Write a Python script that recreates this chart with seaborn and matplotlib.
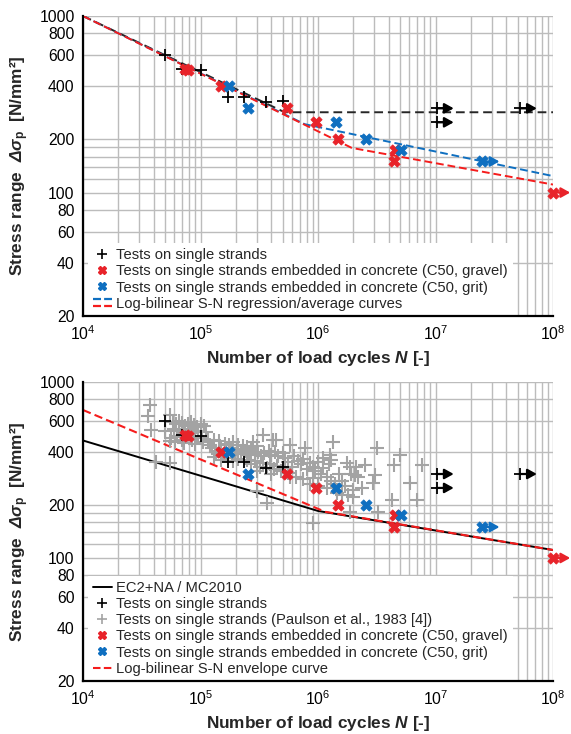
import numpy as np
import pandas as pd
import seaborn as sns
import matplotlib
matplotlib.use("Agg")
import matplotlib.pyplot as plt
from matplotlib.lines import Line2D
from matplotlib.legend_handler import HandlerBase
from matplotlib.ticker import FixedLocator, NullFormatter, LogLocator

# ---------------- data ----------------
# Tests on single strands (N, stress range)
strand_N = [5.0e4, 7.0e4, 1.0e5, 1.72e5, 2.35e5, 3.6e5, 5.0e5]
strand_S = [600, 500, 495, 350, 350, 325, 330]
strand_runout_N = [1.02e7, 1.02e7, 5.2e7]
strand_runout_S = [300, 250, 300]

# Strands embedded in concrete (C50, gravel)
gravel_N = [7.4e4, 7.9e4, 1.49e5, 5.4e5, 9.6e5, 1.49e6, 4.5e6, 4.4e6]
gravel_S = [500, 495, 400, 300, 250, 200, 175, 150]
gravel_runout_N = [1.0e8]
gravel_runout_S = [100]

# Strands embedded in concrete (C50, grit)
grit_N = [1.74e5, 2.55e5, 1.42e6, 2.56e6, 5.1e6]
grit_S = [400, 300, 250, 200, 175]
grit_runout_N = [2.5e7]
grit_runout_S = [150]

# Log-bilinear regression / average curves (top panel)
avg_strand_N = [1e4, 5.2e5, 1e8]
avg_strand_S = [1000, 285, 285]
avg_grit_N = [1e4, 7.7e5, 1e8]
avg_grit_S = [1000, 244, 124]
avg_gravel_N = [1e4, 1.94e6, 1e8]
avg_gravel_S = [1000, 179, 111]

# EC2+NA / MC2010 and envelope curve (bottom panel)
ec2_N = [1e4, 1e6, 1e8]
ec2_S = [465, 185, 111]
env_N = [1e4, 1.15e6, 1e8]
env_S = [693, 183, 111]

# Paulson et al., 1983 (N, stress range)
paulson_tests = [
    (3.7e4, 740), (3.6e4, 640), (3.8e4, 535), (4.2e4, 350), (5.5e4, 345),
    (5.5e4, 650), (5.0e4, 530), (5.5e4, 460),
    (5.8e4, 590), (6.2e4, 575), (6.6e4, 600), (7.0e4, 585), (7.4e4, 560),
    (7.8e4, 575), (8.3e4, 590), (8.8e4, 570), (9.3e4, 555), (1.0e5, 575),
    (1.08e5, 560), (6.0e4, 540), (6.5e4, 525), (7.2e4, 530), (8.0e4, 540),
    (8.6e4, 520), (9.6e4, 530), (1.12e5, 520), (5.6e4, 480), (6.3e4, 495),
    (6.9e4, 470), (7.6e4, 490), (8.4e4, 470), (9.0e4, 490), (1.02e5, 480),
    (1.15e5, 470), (6.1e4, 455), (7.3e4, 450), (8.9e4, 445), (1.05e5, 455),
    (1.2e5, 440),
    (1.3e5, 470), (1.45e5, 460), (1.6e5, 445), (1.75e5, 440), (1.9e5, 455),
    (2.1e5, 440), (2.3e5, 430), (2.5e5, 425), (2.8e5, 458), (3.4e5, 500),
    (4.1e5, 468), (4.4e5, 468), (3.0e5, 430),
    (1.25e5, 420), (1.35e5, 400), (1.5e5, 415), (1.65e5, 395), (1.8e5, 410),
    (1.95e5, 390), (2.05e5, 415), (2.2e5, 395), (2.4e5, 405), (2.6e5, 385),
    (2.7e5, 410), (2.9e5, 390), (3.1e5, 400), (3.3e5, 380), (3.5e5, 395),
    (3.8e5, 405), (4.0e5, 385), (4.3e5, 400), (4.6e5, 380), (5.0e5, 395),
    (1.3e5, 375), (1.5e5, 360), (1.7e5, 370), (1.9e5, 355), (2.1e5, 365),
    (2.5e5, 360), (2.7e5, 340), (2.9e5, 355), (3.2e5, 330), (3.4e5, 345),
    (3.7e5, 325), (3.9e5, 340), (4.2e5, 320), (4.5e5, 335), (4.8e5, 310),
    (5.2e5, 325), (5.6e5, 305), (4.0e5, 300), (3.0e5, 310),
    (3.0e5, 240), (3.7e5, 205),
    (5.8e5, 438), (7.75e5, 420), (1.26e6, 385), (1.35e6, 458), (1.75e6, 345),
    (2.5e6, 338), (3.16e6, 420), (5.0e6, 385), (7.6e6, 338), (4.4e6, 338),
    (3.05e6, 296), (2.95e6, 266), (2.36e6, 249), (2.0e6, 223), (6.07e6, 266),
    (4.24e6, 214), (6.9e6, 214), (3.26e6, 183), (1.87e6, 183), (9.1e5, 158),
    (2.1e6, 330), (2.2e6, 290), (2.05e6, 296), (1.87e6, 330),
    (5.2e5, 370), (5.6e5, 350), (6.0e5, 330), (6.3e5, 380), (6.8e5, 355),
    (7.2e5, 340), (7.5e5, 365), (8.0e5, 320), (8.5e5, 345), (9.0e5, 330),
    (9.5e5, 310), (1.0e6, 350), (1.05e6, 300), (1.1e6, 325), (1.2e6, 290),
    (1.25e6, 340), (1.3e6, 275), (1.4e6, 262), (1.5e6, 300), (1.6e6, 272),
    (1.7e6, 255), (1.2e6, 250), (1.0e6, 258), (8.5e5, 262), (1.45e6, 235),
    (1.6e6, 228), (1.8e6, 228), (2.0e6, 242), (1.9e6, 300), (1.3e6, 360),
    (1.1e6, 370), (6.5e5, 290), (7.5e5, 280), (5.8e5, 290), (9.0e5, 285),
]

y_ticks = [20, 40, 60, 80, 100, 200, 400, 600, 800, 1000]
y_minor = [120, 140, 160, 180]

# ---------------- style ----------------
sns.set_theme(style="white")
plt.rcParams["font.family"] = ["Liberation Sans", "DejaVu Sans"]
plt.rcParams["mathtext.fontset"] = "custom"
plt.rcParams["mathtext.rm"] = "Liberation Sans:bold:italic"
plt.rcParams["mathtext.it"] = "Liberation Sans:bold:italic"
plt.rcParams["mathtext.bf"] = "Liberation Sans:bold:italic"

RED = "#e8232a"
RED_LINE = "#f51c1c"
BLUE = "#0f6fc0"
GRAY = "#a3a3a3"
TICK_FS = 11.3
LAB_FS = 12.4
LEG_FS = 10.6

fig = plt.figure(figsize=(5.71, 7.34), dpi=100)
ax1 = fig.add_axes([0.1454, 0.5695, 0.8231, 0.4087])
ax2 = fig.add_axes([0.1454, 0.0722, 0.8231, 0.4074])


def setup(ax):
    ax.set_xscale("log")
    ax.set_yscale("log")
    ax.set_xlim(1e4, 1e8)
    ax.set_ylim(20, 1000)
    ax.yaxis.set_major_locator(FixedLocator(y_ticks))
    ax.set_yticklabels([str(t) for t in y_ticks])
    ax.yaxis.set_minor_locator(FixedLocator(y_minor))
    ax.yaxis.set_minor_formatter(NullFormatter())
    ax.xaxis.set_major_locator(LogLocator(base=10, numticks=10))
    ax.xaxis.set_minor_locator(LogLocator(base=10, subs=np.arange(2, 10), numticks=10))
    ax.xaxis.set_minor_formatter(NullFormatter())
    ax.grid(True, which="both", color="#bcbcbc", lw=1.0)
    ax.set_axisbelow(True)
    for s in ["top", "right"]:
        ax.spines[s].set_visible(False)
    for s in ["left", "bottom"]:
        ax.spines[s].set_color("black")
        ax.spines[s].set_linewidth(1.6)
        ax.spines[s].set_zorder(6)
    ax.tick_params(which="major", length=4, width=1, direction="out",
                   labelsize=TICK_FS, colors="black", pad=2)
    ax.tick_params(which="minor", length=0)
    ax.set_xlabel("Number of load cycles $N$ [-]", fontsize=LAB_FS,
                  fontweight="bold", labelpad=4)
    ax.set_ylabel(r"Stress range  $\Delta\sigma_{\mathregular{p}}$  [N/mm²]",
                  fontsize=LAB_FS, fontweight="bold", labelpad=6)


def runout(ax, Ns, Ss, color):
    for n, s in zip(Ns, Ss):
        ax.annotate("", xy=(n * 1.4, s), xytext=(n, s),
                    arrowprops=dict(arrowstyle="-|>,head_length=0.45,head_width=0.25",
                                    color=color, lw=1.6, shrinkA=0, shrinkB=0,
                                    mutation_scale=12),
                    annotation_clip=False, zorder=6)


def markers(ax, with_paulson=False):
    if with_paulson:
        pdf = pd.DataFrame(paulson_tests, columns=["N", "S"])
        sns.scatterplot(data=pdf, x="N", y="S", ax=ax, marker="+", s=90,
                        color=GRAY, linewidth=1.5, legend=False, zorder=3)
    sns.scatterplot(x=strand_N + strand_runout_N, y=strand_S + strand_runout_S,
                    ax=ax, marker="+", s=75, color="black", linewidth=1.3,
                    legend=False, zorder=4)
    sns.scatterplot(x=gravel_N + gravel_runout_N, y=gravel_S + gravel_runout_S,
                    ax=ax, marker="X", s=65, color=RED, edgecolor=RED,
                    linewidth=0.6, legend=False, zorder=4, clip_on=False)
    sns.scatterplot(x=grit_N + grit_runout_N, y=grit_S + grit_runout_S,
                    ax=ax, marker="X", s=65, color=BLUE, edgecolor=BLUE,
                    linewidth=0.6, legend=False, zorder=4)
    runout(ax, strand_runout_N, strand_runout_S, "black")
    runout(ax, gravel_runout_N, gravel_runout_S, RED)
    runout(ax, grit_runout_N, grit_runout_S, BLUE)


class HandlerDouble(HandlerBase):
    def create_artists(self, legend, orig_handle, xdescent, ydescent,
                       width, height, fontsize, trans):
        arts = []
        for dy, c in [(0.32, BLUE), (-0.32, RED_LINE)]:
            y = height / 2 - ydescent + dy * height
            l = Line2D([-xdescent, -xdescent + width], [y, y], color=c, lw=1.6,
                       linestyle=(0, (3.6, 1.4)))
            l.set_transform(trans)
            arts.append(l)
        return arts


def style_legend(leg):
    leg.get_frame().set_linewidth(0)
    leg.get_frame().set_facecolor("white")
    leg.set_zorder(2.4)


# ---------------- top panel ----------------
setup(ax1)
sns.lineplot(x=avg_strand_N, y=avg_strand_S, ax=ax1, color="#262626", lw=1.4,
             linestyle=(0, (4.5, 2.5)), zorder=2)
sns.lineplot(x=avg_grit_N, y=avg_grit_S, ax=ax1, color=BLUE, lw=1.4,
             linestyle=(0, (4, 2)), zorder=2)
sns.lineplot(x=avg_gravel_N, y=avg_gravel_S, ax=ax1, color=RED_LINE, lw=1.4,
             linestyle=(0, (4, 2)), zorder=2)
markers(ax1)
setup(ax1)

h_strand = Line2D([], [], marker="+", color="black", ls="none", markersize=7, mew=1.2)
h_gravel = Line2D([], [], marker="X", color=RED, ls="none", markersize=5.5)
h_grit = Line2D([], [], marker="X", color=BLUE, ls="none", markersize=5.5)
h_double = Line2D([], [], color="k")
leg1 = ax1.legend([h_strand, h_gravel, h_grit, h_double],
                  ["Tests on single strands",
                   "Tests on single strands embedded in concrete (C50, gravel)",
                   "Tests on single strands embedded in concrete (C50, grit)",
                   "Log-bilinear S-N regression/average curves"],
                  handler_map={h_double: HandlerDouble()},
                  loc="lower left", bbox_to_anchor=(0.01, 0.0), borderaxespad=0,
                  borderpad=0.35, handlelength=1.3, handletextpad=0.3,
                  labelspacing=0.15, fontsize=LEG_FS, frameon=True,
                  fancybox=False, framealpha=1)
style_legend(leg1)

# ---------------- bottom panel ----------------
setup(ax2)
sns.lineplot(x=ec2_N, y=ec2_S, ax=ax2, color="black", lw=1.4, zorder=2)
sns.lineplot(x=env_N, y=env_S, ax=ax2, color=RED_LINE, lw=1.5,
             linestyle=(0, (4, 2)), zorder=2.2)
markers(ax2, with_paulson=True)
setup(ax2)

h_ec2 = Line2D([], [], color="black", lw=1.4)
h_paul = Line2D([], [], marker="+", color=GRAY, ls="none", markersize=7, mew=1.2)
h_env = Line2D([], [], color=RED_LINE, lw=1.5, linestyle=(0, (3.6, 1.6)))
leg2 = ax2.legend([h_ec2, h_strand, h_paul, h_gravel, h_grit, h_env],
                  ["EC2+NA / MC2010",
                   "Tests on single strands",
                   "Tests on single strands (Paulson et al., 1983 [4])",
                   "Tests on single strands embedded in concrete (C50, gravel)",
                   "Tests on single strands embedded in concrete (C50, grit)",
                   "Log-bilinear S-N envelope curve"],
                  loc="lower left", bbox_to_anchor=(0.01, 0.0), borderaxespad=0,
                  borderpad=0.35, handlelength=1.3, handletextpad=0.3,
                  labelspacing=0.15, fontsize=LEG_FS, frameon=True,
                  fancybox=False, framealpha=1)
style_legend(leg2)

fig.savefig("out.png", dpi=100)
